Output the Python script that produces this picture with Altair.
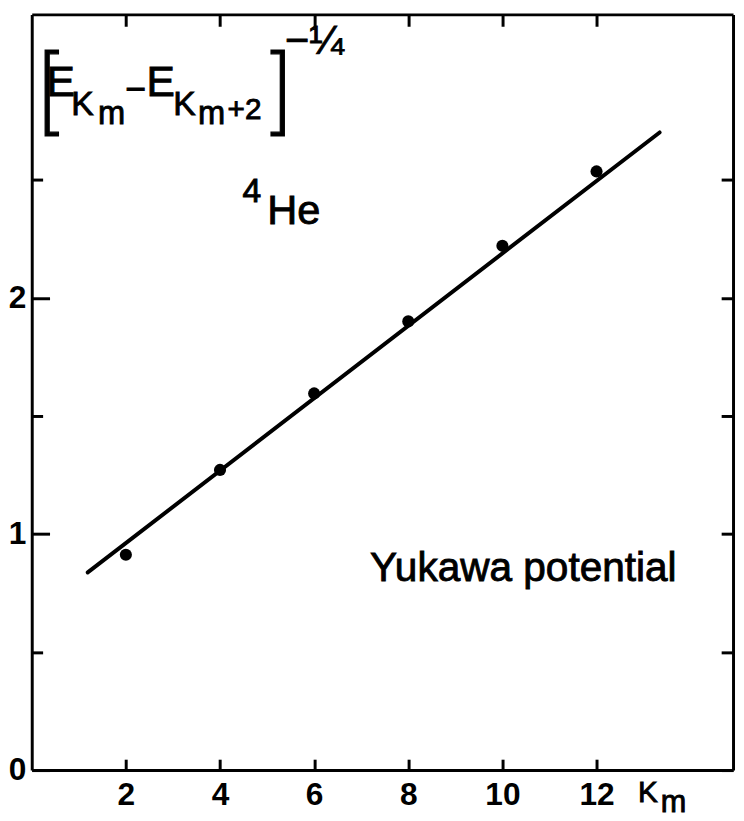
import altair as alt
import pandas as pd

# data
k_values = [2, 4, 6, 8, 10, 12]
inv_gap = [0.912, 1.271, 1.595, 1.900, 2.220, 2.535]
fit_k = [1.19, 13.34]
fit_val = [0.837, 2.700]

x_ticks = [2, 4, 6, 8, 10, 12]
y_ticks = [0, 0.5, 1, 1.5, 2, 2.5]

FONT = "Liberation Sans"
OX, OY = 32, 10  # plot origin on the page

pts_df = pd.DataFrame({"K": k_values, "v": inv_gap})
fit_df = pd.DataFrame({"K": fit_k, "v": fit_val})

xs = alt.Scale(domain=[0, 14.9], nice=False, zero=False)
ys = alt.Scale(domain=[0, 3.2], nice=False, zero=False)

common = dict(domainColor="black", domainWidth=3, tickColor="black", tickWidth=3,
              grid=False, labelFont=FONT, labelFontSize=32, labelFontWeight="bold",
              labelColor="black", labelFlush=False, labelOverlap=False, title=None)

line = alt.Chart(fit_df).mark_line(color="black", strokeWidth=4, strokeCap="round").encode(
    x=alt.X("K:Q", scale=xs, axis=alt.Axis(orient="bottom", values=x_ticks,
                                           tickSize=alt.ExprRef("-11"), labelPadding=21, **common)),
    y=alt.Y("v:Q", scale=ys, axis=alt.Axis(orient="left", values=y_ticks,
                                           tickSize=alt.ExprRef("datum.value % 1 == 0 ? -18 : -11"),
                                           labelPadding=24,
                                           labelExpr="datum.value % 1 == 0 ? format(datum.value, 'd') : ''",
                                           **common)),
)

pts = alt.Chart(pts_df).mark_circle(color="black", size=150, opacity=1).encode(
    x=alt.X("K:Q", scale=xs, axis=alt.Axis(orient="top", values=x_ticks,
                                           tickSize=alt.ExprRef("-12"), labels=False, **common)),
    y=alt.Y("v:Q", scale=ys, axis=alt.Axis(orient="right", values=y_ticks,
                                           tickSize=alt.ExprRef("-12"), labels=False, **common)),
)


def txt(s, x, y, size, align="left", font=FONT, weight="normal", sw=0.9):
    return alt.Chart().mark_text(text=s, font=font, fontSize=size, fontWeight=weight,
                                 color="black", stroke="black", strokeWidth=sw,
                                 align=align, baseline="alphabetic").encode(
        x=alt.value(x - OX), y=alt.value(y - OY))


texts = [
    txt("[", 34, 120, 96, font="Inter", weight=200, sw=1.2),
    txt("E", 47, 93, 43),
    txt("K", 72, 112, 34),
    txt("m", 99, 121, 33),
    txt("\u2212", 137, 98, 36, align="center"),
    txt("E", 148, 93, 43),
    txt("K", 175, 112, 34),
    txt("m", 200, 121, 33),
    txt("+2", 230, 116, 30),
    txt("]", 267, 120, 96, font="Inter", weight=200, sw=1.2),
    txt("\u2212\u00bc", 288, 50, 42),
    txt("4", 245, 200, 34),
    txt("He", 270, 222, 42),
    txt("Yukawa potential", 374, 583, 41),
    txt("K", 645, 806, 30),
    txt("m", 668, 816, 31),
]

chart = alt.layer(line, pts, *texts).resolve_axis(x="independent", y="independent").properties(
    width=709, height=764,
    autosize=alt.AutoSizeParams(type="none"),
    padding={"left": 24, "top": 2, "right": 3, "bottom": 45},
).configure_view(stroke=None)

chart.save("out.html", embed_options={"renderer": "svg", "actions": False})
